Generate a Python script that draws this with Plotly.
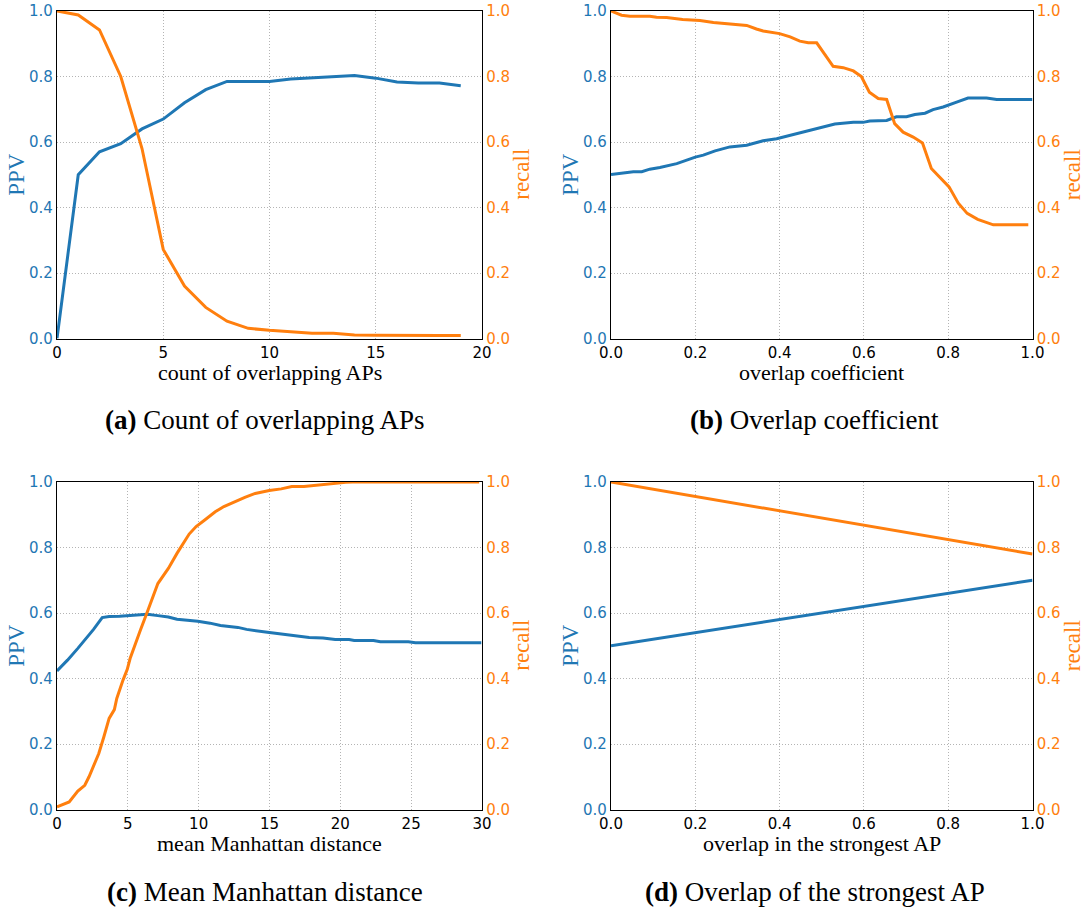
import plotly.graph_objects as go

W, H = 1084, 909
BLUE = "#1f77b4"
ORANGE = "#ff7f0e"

# ---------------- data ----------------
# (a) count of overlapping APs
a_x = list(range(20))
a_ppv = [0.0, 0.50, 0.57, 0.595, 0.64, 0.67, 0.72, 0.76, 0.785, 0.785,
         0.785, 0.792, 0.795, 0.80, 0.803, 0.795, 0.783, 0.78, 0.78, 0.772]
a_recall = [1.0, 0.988, 0.942, 0.80, 0.58, 0.272, 0.16, 0.095, 0.053, 0.031,
            0.025, 0.02, 0.016, 0.016, 0.011, 0.01, 0.009, 0.009, 0.009, 0.009]

# (b) overlap coefficient
b_ppv_x = [0.0, 0.053, 0.073, 0.092, 0.116, 0.156, 0.2, 0.219, 0.247, 0.282,
           0.322, 0.361, 0.393, 0.432, 0.488, 0.531, 0.575, 0.598, 0.614, 0.654,
           0.677, 0.701, 0.721, 0.745, 0.764, 0.788, 0.82, 0.847, 0.891, 0.915, 1.0]
b_ppv = [0.501, 0.509, 0.509, 0.517, 0.522, 0.534, 0.554, 0.56, 0.573, 0.585,
         0.59, 0.604, 0.61, 0.623, 0.642, 0.655, 0.66, 0.66, 0.664, 0.666,
         0.677, 0.677, 0.684, 0.688, 0.699, 0.707, 0.722, 0.734, 0.734, 0.73, 0.73]
b_rec_x = [0.0, 0.025, 0.045, 0.092, 0.108, 0.132, 0.17, 0.211, 0.243, 0.274,
           0.298, 0.322, 0.345, 0.361, 0.4, 0.425, 0.448, 0.468, 0.488, 0.527,
           0.551, 0.575, 0.594, 0.613, 0.634, 0.654, 0.673, 0.693, 0.717, 0.739,
           0.76, 0.78, 0.802, 0.824, 0.845, 0.87, 0.894, 0.907, 0.99]
b_recall = [1.0, 0.987, 0.984, 0.984, 0.981, 0.98, 0.974, 0.971, 0.965, 0.961,
            0.957, 0.956, 0.945, 0.939, 0.931, 0.921, 0.908, 0.903, 0.903, 0.831,
            0.827, 0.817, 0.80, 0.752, 0.733, 0.73, 0.656, 0.63, 0.615, 0.597,
            0.519, 0.493, 0.463, 0.413, 0.382, 0.364, 0.352, 0.347, 0.347]

# (c) mean Manhattan distance
c_ppv_x = [0, 0.74, 1.47, 1.96, 2.58, 3.19, 3.68, 4.42, 5.03, 5.89, 6.38, 7.12,
           7.86, 8.47, 9.33, 9.94, 10.8, 11.54, 12.77, 13.38, 14.85, 15.83, 16.94,
           17.8, 18.78, 19.64, 20.62, 20.98, 22.34, 22.83, 24.8, 25.3, 29.95]
c_ppv = [0.423, 0.456, 0.492, 0.517, 0.55, 0.586, 0.589, 0.59, 0.592, 0.593,
         0.596, 0.592, 0.588, 0.581, 0.578, 0.575, 0.569, 0.562, 0.556, 0.55,
         0.541, 0.536, 0.53, 0.525, 0.524, 0.519, 0.519, 0.516, 0.516, 0.512,
         0.512, 0.509, 0.509]
c_rec_x = [0, 0.86, 1.47, 1.96, 2.26, 2.58, 2.95, 3.31, 3.68, 4.05, 4.22, 4.66,
           4.96, 5.16, 5.52, 5.89, 6.38, 6.75, 7.12, 7.86, 8.47, 9.33, 9.82, 10.43,
           11.17, 11.78, 12.52, 13.26, 13.99, 14.98, 15.83, 16.57, 17.43, 18.41,
           19.39, 20.38, 20.87, 29.8]
c_recall = [0.008, 0.023, 0.056, 0.074, 0.1, 0.132, 0.171, 0.222, 0.278, 0.305,
            0.339, 0.395, 0.428, 0.461, 0.507, 0.548, 0.604, 0.65, 0.69, 0.736,
            0.782, 0.841, 0.864, 0.884, 0.909, 0.925, 0.94, 0.953, 0.965, 0.974,
            0.979, 0.986, 0.986, 0.991, 0.995, 0.999, 1.0, 1.0]

# (d) overlap in the strongest AP
d_x = [0.0, 1.0]
d_ppv = [0.5, 0.7]
d_recall = [1.0, 0.78]

panels = [
    dict(px=(a_x, a_ppv), rx=(a_x, a_recall), xr=[0, 20], xt=[0, 5, 10, 15, 20], xf="d",
         xtitle="count of overlapping APs", cap="Count of overlapping APs", lab="(a)"),
    dict(px=(b_ppv_x, b_ppv), rx=(b_rec_x, b_recall), xr=[0, 1], xt=[0, 0.2, 0.4, 0.6, 0.8, 1.0], xf=".1f",
         xtitle="overlap coefficient", cap="Overlap coefficient", lab="(b)"),
    dict(px=(c_ppv_x, c_ppv), rx=(c_rec_x, c_recall), xr=[0, 30], xt=[0, 5, 10, 15, 20, 25, 30], xf="d",
         xtitle="mean Manhattan distance", cap="Mean Manhattan distance", lab="(c)"),
    dict(px=(d_x, d_ppv), rx=(d_x, d_recall), xr=[0, 1], xt=[0, 0.2, 0.4, 0.6, 0.8, 1.0], xf=".1f",
         xtitle="overlap in the strongest AP", cap="Overlap of the strongest AP", lab="(d)"),
]

# pixel geometry of each plot box: (left, right, top, bottom)
boxes = [(57, 482, 11, 338.5), (611, 1032.5, 11, 338.5),
         (57, 482, 482, 809.5), (611, 1032.5, 482, 809.5)]


def fx(x):
    return x / W


def fy(y):
    return 1 - y / H


SERIF = "Liberation Serif"
SANS = "DejaVu Sans"
GRID = dict(showgrid=True, gridcolor="#b4b4b4", griddash="1px,2px", gridwidth=1)

fig = go.Figure()
layout = dict(width=W, height=H, margin=dict(l=0, r=0, t=0, b=0, autoexpand=False),
              paper_bgcolor="white", plot_bgcolor="white", showlegend=False,
              annotations=[])

for i, (p, (l, r, t, b)) in enumerate(zip(panels, boxes)):
    xn = i + 1
    yl = 2 * i + 1
    yr = 2 * i + 2
    xa = "x" if xn == 1 else f"x{xn}"
    yla = "y" if yl == 1 else f"y{yl}"
    yra = f"y{yr}"
    fig.add_trace(go.Scatter(x=p["px"][0], y=p["px"][1], mode="lines",
                             line=dict(color=BLUE, width=3), xaxis=xa, yaxis=yla))
    fig.add_trace(go.Scatter(x=p["rx"][0], y=p["rx"][1], mode="lines",
                             line=dict(color=ORANGE, width=3), xaxis=xa, yaxis=yra))
    layout["xaxis" if xn == 1 else f"xaxis{xn}"] = dict(
        domain=[fx(l), fx(r)], range=p["xr"], anchor=yla, tickvals=p["xt"],
        tickformat=p["xf"], tickfont=dict(family=SANS, size=15, color="black"),
        showline=True, mirror=True, linecolor="black", linewidth=1.3,
        zeroline=False, ticks="", automargin=False, **GRID)
    layout["yaxis" if yl == 1 else f"yaxis{yl}"] = dict(
        domain=[fy(b), fy(t)], range=[0, 1], anchor=xa,
        tickvals=[0, 0.2, 0.4, 0.6, 0.8, 1.0], tickformat=".1f",
        tickfont=dict(family=SANS, size=15, color=BLUE),
        showline=True, linecolor="black", linewidth=1.3, zeroline=False, ticks="",
        automargin=False, **GRID)
    layout[f"yaxis{yr}"] = dict(
        overlaying=yla, side="right", range=[0, 1], anchor=xa,
        tickvals=[0, 0.2, 0.4, 0.6, 0.8, 1.0], tickformat=".1f",
        tickfont=dict(family=SANS, size=15, color=ORANGE),
        showline=True, linecolor="black", linewidth=1.3, zeroline=False,
        showgrid=False, ticks="", automargin=False)
    cx = (l + r) / 2
    cy = (t + b) / 2
    ann = layout["annotations"]
    # x-axis title
    ann.append(dict(text=p["xtitle"], x=fx(cx), y=fy(b + 34), xref="paper", yref="paper",
                    showarrow=False, font=dict(family=SERIF, size=22, color="black"),
                    xanchor="center", yanchor="middle", borderpad=0))
    # PPV label
    ann.append(dict(text="PPV", x=fx(l - 40), y=fy(cy), xref="paper", yref="paper",
                    showarrow=False, textangle=-90,
                    font=dict(family=SERIF, size=23, color=BLUE),
                    xanchor="center", yanchor="middle"))
    # recall label
    ann.append(dict(text="recall", x=fx(r + 40), y=fy(cy), xref="paper", yref="paper",
                    showarrow=False, textangle=-90,
                    font=dict(family=SERIF, size=23, color=ORANGE),
                    xanchor="center", yanchor="middle"))
    # caption
    ann.append(dict(text=f"<b>{p['lab']}</b> {p['cap']}", x=fx(cx - 5 if i % 2 == 0 else cx - 7),
                    y=fy(b + 82), xref="paper", yref="paper", showarrow=False,
                    font=dict(family=SERIF, size=27, color="black"),
                    xanchor="center", yanchor="middle"))

fig.update_layout(**layout)
fig.write_html("out.html", config={"displayModeBar": False},
               post_script="document.body.style.margin='0px';"
                           "document.body.style.overflow='hidden';")
